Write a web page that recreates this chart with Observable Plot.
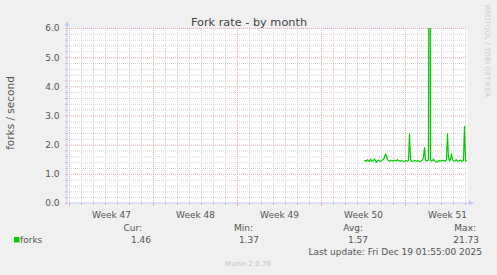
<!DOCTYPE html>
<html><head><meta charset="utf-8">
<script src="https://cdn.jsdelivr.net/npm/d3@7"></script>
<script src="https://cdn.jsdelivr.net/npm/@observablehq/plot@0.6"></script>
<style>
html,body{margin:0;padding:0;background:#f0f0f0;}
#chart{width:497px;height:275px;}
svg text{font-family:"DejaVu Sans",sans-serif;}
</style>
</head><body><div id="chart"></div>
<script>
// ---- data ----
const titleText = "Fork rate - by month";
const yLabel = "forks / second";
const vendorText = "RRDTOOL / TOBI OETIKER";
const creditText = "Munin 2.0.76";
const lastUpdate = "Last update: Fri Dec 19 01:55:00 2025";
const seriesName = "forks";
const weekLabels = ["Week 47", "Week 48", "Week 49", "Week 50", "Week 51"];
const weekStarts = ["2025-11-16", "2025-11-23", "2025-11-30", "2025-12-07", "2025-12-14"];
const domainStart = "2025-11-15T20:00:00Z";
const domainEnd = "2025-12-19T04:00:00Z";
const seriesStart = "2025-12-10T14:00:00Z";
const stepHours = 2;
const yTicks = [0, 1, 2, 3, 4, 5, 6];
const legendHeads = ["Cur:", "Min:", "Avg:", "Max:"];
const legendValues = ["1.46", "1.37", "1.57", "21.73"];
const forks = [
  1.46, 1.47, 1.45, 1.50, 1.46, 1.44, 1.52, 1.47, 1.45, 1.48,
  1.53, 1.46, 1.42, 1.45, 1.49, 1.46, 1.44, 1.47, 1.50, 1.52,
  1.58, 1.70, 1.62, 1.50, 1.47, 1.45, 1.46, 1.48, 1.46, 1.45,
  1.49, 1.47, 1.46, 1.50, 1.47, 1.46, 1.45, 1.48, 1.46, 1.44,
  1.45, 1.47, 1.46, 1.45, 1.48, 2.39, 1.50, 1.45, 1.44, 1.46,
  1.48, 1.46, 1.45, 1.47, 1.46, 1.44, 1.45, 1.47, 1.50, 1.58,
  1.92, 1.48, 1.46, 1.47, 1.50, 21.73, 1.48, 1.45, 1.47, 1.52,
  1.46, 1.43, 1.42, 1.44, 1.46, 1.47, 1.45, 1.46, 1.48, 1.47,
  1.46, 1.45, 1.50, 2.39, 1.55, 1.46, 1.52, 1.70, 1.50, 1.46,
  1.45, 1.48, 1.50, 1.46, 1.45, 1.47, 1.49, 1.46, 1.45, 1.47,
  2.64, 1.46, 1.46
];

// ---- derived ----
const t0 = new Date(seriesStart).getTime();
const data = forks.map((v, i) => ({t: new Date(t0 + i * stepHours * 3600e3), v}));
const xStart = new Date(domainStart), xEnd = new Date(domainEnd);
const weekDates = weekStarts.map(d => new Date(d + "T00:00:00Z"));
const weekMids = weekDates.map(d => d3.utcHour.offset(d, 84));
const dayDates = d3.utcDay.range(xStart, xEnd);
const minorY = d3.range(0, 31).map(i => i / 5).filter(v => Math.abs(v - Math.round(v)) > 1e-6);

const minorColor = "#d4d4d4", majorColor = "#eaa8a8", axisColor = "#c4c8f4";
const dash = "1,1";

const plot = Plot.plot({
  width: 497, height: 275,
  marginLeft: 67, marginRight: 30, marginTop: 28, marginBottom: 72,
  style: {background: "#f0f0f0", fontFamily: "DejaVu Sans", fontSize: "9px", color: "#555", overflow: "visible"},
  x: {type: "utc", domain: [xStart, xEnd], axis: null},
  y: {domain: [0, 6], axis: null},
  marks: [
    Plot.frame({fill: "white", stroke: null}),
    Plot.ruleY(minorY, {stroke: minorColor, strokeDasharray: dash}),
    Plot.ruleX(dayDates, {stroke: minorColor, strokeDasharray: dash}),
    Plot.ruleY(yTicks.slice(1), {stroke: majorColor, strokeDasharray: dash}),
    Plot.ruleX(weekDates, {stroke: majorColor, strokeDasharray: dash}),
    Plot.axisY(minorY, {label: null, tickSize: 2, tickFormat: () => "", stroke: "#bbb"}),
    Plot.axisY(yTicks, {label: null, tickSize: 2, stroke: majorColor, tickPadding: 6, tickFormat: d3.format(".1f"), fill: "#555", fontSize: 9}),
    Plot.axisX(dayDates, {label: null, tickSize: 2, tickFormat: () => "", stroke: "#bbb"}),
    Plot.axisX(weekDates, {label: null, tickSize: 3, tickFormat: () => "", stroke: majorColor}),
    Plot.axisX(weekMids, {label: null, tickSize: 0, tickPadding: 8, tickFormat: (d, i) => weekLabels[i], fill: "#555", fontSize: 9}),
    Plot.line(data, {x: "t", y: "v", stroke: "#00cc00", strokeWidth: 1.2, clip: true})
  ]
});
document.getElementById("chart").appendChild(plot);

// ---- decorations: axis lines/arrows, titles, legend ----
const svg = d3.select(plot);
const X = plot.scale("x"), Y = plot.scale("y");
const x0 = X.apply(xStart), x1 = X.apply(xEnd), y0 = Y.apply(0), yTop = Y.apply(6);
const g = svg.append("g");
g.append("line").attr("x1", x0).attr("x2", x1 + 3).attr("y1", y0).attr("y2", y0).attr("stroke", axisColor);
g.append("line").attr("x1", x0).attr("x2", x0).attr("y1", y0).attr("y2", yTop - 3).attr("stroke", axisColor);
g.append("path").attr("d", `M${x1 + 7},${y0}L${x1 + 2},${y0 - 2.5}L${x1 + 2},${y0 + 2.5}Z`).attr("fill", axisColor);
g.append("path").attr("d", `M${x0},${yTop - 7}L${x0 - 2.5},${yTop - 2}L${x0 + 2.5},${yTop - 2}Z`).attr("fill", axisColor);

const txt = (x, y, s, size, fill, anchor = "start") =>
  g.append("text").attr("x", x).attr("y", y).attr("font-size", size).attr("fill", fill).attr("text-anchor", anchor).text(s);

txt(249, 25.5, titleText, 11.3, "#444", "middle");
g.append("text").attr("transform", "translate(14,113) rotate(-90)").attr("text-anchor", "middle")
  .attr("font-size", 10.5).attr("fill", "#555").text(yLabel);
g.append("text").attr("transform", "translate(485,51) rotate(90)").attr("text-anchor", "middle")
  .attr("font-size", 7.2).attr("fill", "#cfcfcf").text(vendorText);

const headRight = [142, 253, 363, 476];
const valRight = [151, 259, 368, 479];
legendHeads.forEach((h, i) => txt(headRight[i], 231, h, 9, "#555", "end"));
legendValues.forEach((v, i) => txt(valRight[i], 242.5, v, 9, "#555", "end"));
g.append("rect").attr("x", 14).attr("y", 237).attr("width", 5.5).attr("height", 5.5).attr("fill", "#00cc00");
txt(20, 242.5, seriesName, 9, "#555");
txt(482, 254.5, lastUpdate, 9, "#555", "end");
txt(248, 266, creditText, 7, "#c4c4c4", "middle");
</script>
</body></html>
